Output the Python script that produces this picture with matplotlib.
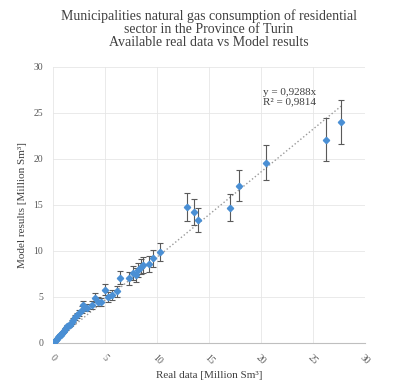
import matplotlib
matplotlib.use("Agg")
import matplotlib.pyplot as plt
import numpy as np

# real data vs model results, Million Sm3
real = [0.1, 0.2, 0.3, 0.4, 0.5, 0.6, 0.7, 0.8, 0.9, 1.0, 1.1, 1.2, 1.3, 1.4, 1.5,
        1.6, 1.8, 1.9, 2.1, 2.3, 2.5, 2.8, 2.9, 3.3, 3.75, 4.0, 4.3, 4.6, 5.0, 5.3,
        5.7, 6.2, 6.4, 7.3, 7.7, 8.0, 8.2, 8.5, 8.7, 9.2, 9.6, 10.3,
        12.9, 13.6, 13.9, 17.0, 17.9, 20.5, 26.3, 27.7]
model = [0.1, 0.25, 0.35, 0.45, 0.6, 0.7, 0.85, 0.9, 1.1, 1.2, 1.3, 1.5, 1.6, 1.8, 1.9,
         2.0, 2.3, 2.5, 2.8, 3.0, 3.3, 3.6, 4.1, 3.8, 4.1, 4.9, 4.5, 4.4, 5.8, 5.0,
         5.2, 5.6, 7.1, 7.0, 7.6, 7.4, 7.9, 8.3, 8.5, 8.6, 9.2, 9.9,
         14.8, 14.2, 13.4, 14.7, 17.1, 19.6, 22.1, 24.0]
err = [0.01, 0.03, 0.04, 0.05, 0.06, 0.07, 0.09, 0.09, 0.11, 0.12, 0.13, 0.15, 0.16, 0.18, 0.19,
       0.2, 0.23, 0.25, 0.28, 0.3, 0.33, 0.36, 0.41, 0.38, 0.41, 0.49, 0.45, 0.44, 0.58, 0.5,
       0.52, 0.56, 0.71, 0.7, 0.76, 0.74, 0.79, 0.83, 0.85, 0.86, 0.92, 0.99,
       1.5, 1.4, 1.3, 1.5, 1.7, 1.9, 2.3, 2.4]
slope = 0.9288
r2 = 0.9814
ticks = [0, 5, 10, 15, 20, 25, 30]

plt.rcParams['font.family'] = 'Liberation Serif'

fig = plt.figure(figsize=(3.98, 3.91), dpi=100)
ax = fig.add_axes([0.133, 0.123, 0.784, 0.706])

ax.errorbar(real, model, yerr=err, fmt='D', ms=3.2, mfc='#4a8fd4', mec='#4a8fd4',
            ecolor='#5a5a5a', elinewidth=0.8, capsize=2, capthick=0.8, zorder=3)

# linear trendline through origin
xt = np.array([0, max(real)])
ax.plot(xt, slope * xt, ls=':', color='#9a9a9a', lw=1.0, zorder=2)
ax.text(25.3, 25.7, "y = 0,9288x\nR² = 0,9814", fontsize=8, color='#404040',
        ha='right', va='bottom', linespacing=1.1)

ax.set_xlim(0, 30)
ax.set_ylim(0, 30)
ax.set_xticks(ticks)
ax.set_yticks(ticks)
ax.set_xticklabels([str(t) for t in ticks], rotation=-45, fontsize=7, color='#595959')
ax.set_yticklabels([str(t) for t in ticks], fontsize=7, color='#595959')
ax.tick_params(length=0, pad=7)
ax.grid(True, color='#e6e6e6', lw=0.6)
ax.set_axisbelow(True)
for s in ['top', 'right', 'left']:
    ax.spines[s].set_visible(False)
ax.spines['bottom'].set_color('#bfbfbf')

ax.set_xlabel("Real data [Million Sm³]", fontsize=8, color='#404040', labelpad=4)
ax.set_ylabel("Model results [Million Sm³]", fontsize=8, color='#404040', labelpad=5)
ax.set_title("Municipalities natural gas consumption of residential\nsector in the Province of Turin\nAvailable real data vs Model results",
             fontsize=10, color='#404040', linespacing=1.0, pad=15)

plt.savefig("out.png", dpi=100)
